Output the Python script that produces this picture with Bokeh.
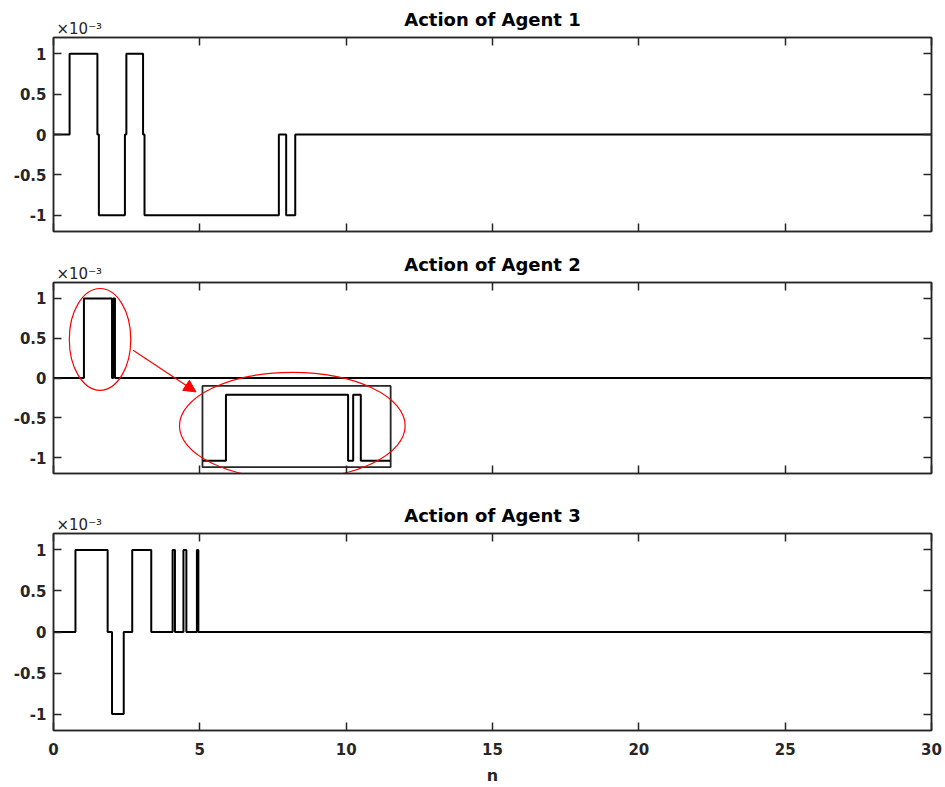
from bokeh.plotting import figure
from bokeh.layouts import column
from bokeh.models import LinearAxis, FixedTicker, Range1d, Arrow, NormalHead, Title
from bokeh.embed import file_html
from bokeh.resources import INLINE

# ---------------- data (actions in units of 1e-3) ----------------
N_RANGE = [0, 30]
U_RANGE = [-1.2, 1.2]
X_TICKS = [0, 5, 10, 15, 20, 25, 30]
Y_TICKS = [-1, -0.5, 0, 0.5, 1]
Y_TICK_LABELS = ["-1", "-0.5", "0", "0.5", "1"]
TITLES = ["Action of Agent 1", "Action of Agent 2", "Action of Agent 3"]
SCALE_LABEL = "×10⁻³"
X_LABEL = "n"

agent1_n = [0, 0.55, 1.50, 1.55, 2.44, 2.49, 3.06, 3.11, 7.70, 7.95, 8.26, 30]
agent1_u = [0, 1, 0, -1, 0, 1, 0, -1, 0, -1, 0, 0]

agent2_n = [0, 1.04, 2.00, 2.04, 2.10, 30]
agent2_u = [0, 1, 0, 1, 0, 0]

agent3_n = [0, 0.75, 1.85, 2.00, 2.40, 2.69, 3.34, 4.07, 4.15, 4.44, 4.54, 4.90, 4.95, 30]
agent3_u = [0, 1, 0, -1, 0, 1, 0, 1, 0, 1, 0, 1, 0, 0]

# zoom window of agent 2 shown in the inset
INSET_WINDOW = [0.86, 2.33]

# ---------------- styling ----------------
AX = "#262626"
FONT = "DejaVu Sans"
TICK_FS = "15px"


def clip_steps(xs, ys, lo, hi):
    start = ys[0]
    for x, y in zip(xs, ys):
        if x <= lo:
            start = y
    ox, oy = [lo], [start]
    for x, y in zip(xs, ys):
        if lo < x < hi:
            ox.append(x)
            oy.append(y)
    ox.append(hi)
    oy.append(oy[-1])
    return ox, oy


def style_axis(ax, labels):
    ax.major_tick_in = 8
    ax.major_tick_out = 0
    ax.minor_tick_line_color = None
    ax.axis_line_color = AX
    ax.axis_line_width = 1.5
    ax.major_tick_line_color = AX
    ax.major_tick_line_width = 1.5
    ax.major_label_text_font = FONT
    ax.major_label_text_font_style = "bold"
    if labels:
        ax.major_label_text_font_size = TICK_FS
        ax.major_label_text_color = AX
    else:
        ax.major_label_text_font_size = "1px"
        ax.major_label_text_color = None
        ax.major_label_standoff = 0


def make_fig(h, top, bottom, left, right, title, xlabels, n, u):
    p = figure(width=945, height=h,
               x_range=Range1d(*N_RANGE), y_range=Range1d(*U_RANGE),
               output_backend="svg", toolbar_location=None,
               min_border_top=top, min_border_bottom=bottom,
               min_border_left=left, min_border_right=right)
    p.grid.visible = False
    p.outline_line_color = AX
    p.outline_line_width = 1.5
    p.background_fill_color = "white"
    p.border_fill_color = "white"

    bottom_ax = p.below[0]
    left_ax = p.left[0]
    bottom_ax.ticker = FixedTicker(ticks=X_TICKS)
    left_ax.ticker = FixedTicker(ticks=Y_TICKS)
    left_ax.major_label_overrides = {t: s for t, s in zip(Y_TICKS, Y_TICK_LABELS)}
    top_ax = LinearAxis(ticker=FixedTicker(ticks=X_TICKS))
    right_ax = LinearAxis(ticker=FixedTicker(ticks=Y_TICKS))
    p.add_layout(top_ax, "above")
    p.add_layout(right_ax, "right")
    style_axis(bottom_ax, xlabels)
    style_axis(left_ax, True)
    style_axis(top_ax, False)
    style_axis(right_ax, False)
    left_ax.major_label_standoff = 7
    bottom_ax.major_label_standoff = 12

    # scale factor text just above the top-left corner
    p.add_layout(Title(text=SCALE_LABEL, align="left", offset=3, standoff=0,
                       text_font=FONT, text_font_size="15px",
                       text_font_style="normal", text_color=AX), "above")
    # main title (pulled down so that it shares the line with the scale factor)
    p.add_layout(Title(text=title, align="center", standoff=-24,
                       text_font=FONT, text_font_size="18px",
                       text_font_style="bold", text_color="#000000"), "above")

    p.step(n, u, mode="after", line_color="black", line_width=2)
    return p, bottom_ax


p1, b1 = make_fig(245, 37, 14, 53, 13, TITLES[0], False, agent1_n, agent1_u)
p2, b2 = make_fig(251, 37, 23, 48, 14, TITLES[1], False, agent2_n, agent2_u)
p3, b3 = make_fig(291, 37, 55, 46, 13, TITLES[2], True, agent3_n, agent3_u)
b3.axis_label = X_LABEL
b3.axis_label_text_font = FONT
b3.axis_label_text_font_size = "16px"
b3.axis_label_text_font_style = "bold"
b3.axis_label_text_color = AX
b3.axis_label_standoff = 8

# ---------------- inset on agent 2 ----------------
BOX = dict(left=5.09, right=11.52, bottom=-1.12, top=-0.10)
TRACE_X = [5.11, 11.50]      # where the zoom window lands (main n units)
TRACE_Y = [-1.04, -0.21]     # where u=0 and u=1 land (main units)
kx = (TRACE_X[1] - TRACE_X[0]) / (INSET_WINDOW[1] - INSET_WINDOW[0])
ky = (TRACE_Y[1] - TRACE_Y[0])
ix0 = INSET_WINDOW[0] - (TRACE_X[0] - N_RANGE[0]) / kx
iy0 = 0 - (TRACE_Y[0] - U_RANGE[0]) / ky
p2.extra_x_ranges = {"inset": Range1d(ix0, ix0 + (N_RANGE[1] - N_RANGE[0]) / kx)}
p2.extra_y_ranges = {"inset": Range1d(iy0, iy0 + (U_RANGE[1] - U_RANGE[0]) / ky)}

p2.quad(left=[BOX["left"]], right=[BOX["right"]], bottom=[BOX["bottom"]], top=[BOX["top"]],
        fill_color=None, line_color=AX, line_width=1.8)
inx, inu = clip_steps(agent2_n, agent2_u, *INSET_WINDOW)
p2.step(inx, inu, mode="after", line_color="black", line_width=2,
        x_range_name="inset", y_range_name="inset")

p2.ellipse(x=[1.59, 8.16], y=[0.485, -0.60], width=[2.10, 7.71], height=[1.28, 1.34],
           fill_color=None, line_color="red", line_width=1.2)
p2.add_layout(Arrow(end=NormalHead(size=12, fill_color="red", line_color="red"),
                    x_start=2.72, y_start=0.35, x_end=4.87, y_end=-0.175,
                    line_color="red", line_width=1.2))

layout = column(p1, p2, p3, spacing=0)
open("out.html", "w").write(file_html(layout, INLINE))
